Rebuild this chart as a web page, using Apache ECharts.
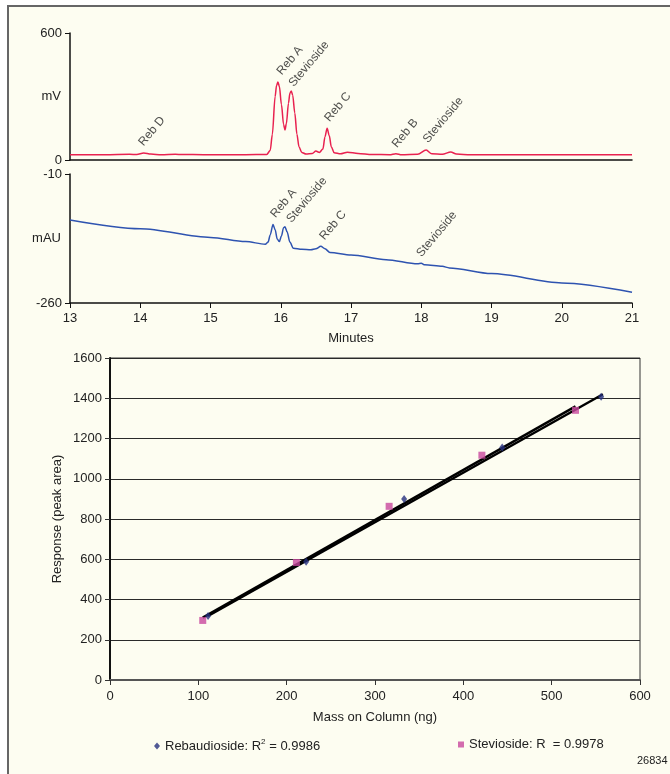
<!DOCTYPE html>
<html>
<head>
<meta charset="utf-8">
<script src="https://cdn.jsdelivr.net/npm/echarts@6/dist/echarts.min.js"></script>
<style>
html,body{margin:0;padding:0;background:#ffffff;}
#chart{width:670px;height:774px;}
</style>
</head>
<body>
<div id="chart"></div>
<script>
// ---------- DATA ----------
// ELSD trace (minutes, mV)
const elsdTrace = [
  [13.0,25],[13.5,25],[13.85,27],[13.95,26],[14.05,33],[14.15,28],[14.3,25],[14.5,27],[14.6,26],
  [14.9,25],[15.5,25],[15.8,26],[15.85,45],[15.88,120],[15.92,300],[15.94,352],[15.96,368],
  [15.98,348],[16.01,262],[16.04,168],[16.06,142],[16.08,172],[16.11,268],[16.13,315],
  [16.15,326],[16.17,306],[16.2,222],[16.23,122],[16.26,62],[16.3,36],[16.36,28],[16.45,31],
  [16.5,42],[16.55,36],[16.6,52],[16.63,110],[16.66,150],[16.69,116],[16.72,62],[16.76,34],
  [16.85,29],[16.95,37],[17.1,31],[17.3,26],[17.55,25],[17.64,30],[17.72,25],[17.95,27],
  [18.07,47],[18.15,29],[18.3,27],[18.42,38],[18.5,28],[18.7,25],[21.0,25]
];
// UV trace (minutes, mAU)
const uvTrace = [
  [13.0,-99],[14.0,-116],[15.0,-133],[15.5,-141],[15.78,-146],[15.82,-142],[15.85,-128],
  [15.89,-108],[15.92,-118],[15.95,-136],[15.98,-141],[16.01,-130],[16.04,-114],[16.06,-112],
  [16.09,-122],[16.13,-142],[16.18,-154],[16.3,-156],[16.43,-157],[16.5,-155],[16.57,-150],
  [16.63,-155],[16.7,-162],[17.0,-167],[17.5,-176],[17.95,-184],[18.0,-183],[18.05,-186],
  [18.3,-189],[18.4,-192],[19.0,-203],[20.0,-221],[21.0,-239]
];
// Peak annotations: [label, minutes, level]
const elsdLabels = [
  ['Reb D',13.95,66],['Reb A',15.92,401],['Stevioside',16.09,345],['Reb C',16.6,180],
  ['Reb B',17.56,57],['Stevioside',18.0,80]
];
const uvLabels = [
  ['Reb A',15.83,-95],['Stevioside',16.06,-105],['Reb C',16.53,-138],['Stevioside',17.91,-171]
];
// Calibration (ng, peak area)
const rebMass = [111,222,333,444,556];
const rebArea = [318,587,900,1155,1408];
const stevMass = [105,211,316,421,527];
const stevArea = [296,584,863,1117,1340];
// Trendline end points
const rebTrend = [[111,318],[558,1420]];
const stevTrend = [[105,310],[527,1360]];
const legendText = ['Rebaudioside: R', '2', ' = 0.9986', 'Stevioside: R  = 0.9978'];
const figureId = '26834';

// ---------- CHART ----------
const FONT = "'Liberation Sans',Arial,sans-serif";
const TXT = '#222';
const chart = echarts.init(document.getElementById('chart'), null, {renderer:'canvas'});

function annot(list, xi, yi) {
  return {
    type:'scatter', xAxisIndex:xi, yAxisIndex:yi, symbolSize:0, silent:true, z:5,
    data: list.map(d => ({name:d[0], value:[d[1], d[2]]})),
    label:{show:true, position:[0,0], offset:[4,8], align:'left', verticalAlign:'bottom', rotate:50,
      formatter:p=>p.name, fontFamily:FONT, fontSize:12, color:TXT}
  };
}

const axisLabelStyle = {fontFamily:FONT, fontSize:13, color:TXT, formatter:v=>String(v)};

const option = {
  backgroundColor:'transparent',
  animation:false,
  textStyle:{fontFamily:FONT},
  graphic:[
    {type:'rect', shape:{x:8, y:6, width:720, height:820}, style:{fill:'#fdfdf1', stroke:'#666', lineWidth:2}, z:-10},
    {type:'text', left:637, top:755, style:{text:figureId, font:'11px ' + FONT, fill:TXT}}
  ],
  grid:[
    {left:70, top:33, width:562, height:127},
    {left:70, top:174, width:562, height:129},
    {left:110, top:358, width:530, height:322, show:true, borderColor:'#333', borderWidth:1}
  ],
  xAxis:[
    {gridIndex:0, type:'value', min:13, max:21, interval:1,
      axisLine:{lineStyle:{color:'#111', width:1.5}}, axisTick:{show:false}, axisLabel:{show:false}, splitLine:{show:false}},
    {gridIndex:1, type:'value', min:13, max:21, interval:1,
      axisLine:{lineStyle:{color:'#111', width:1.5}}, axisTick:{length:5, lineStyle:{color:'#111'}},
      axisLabel:Object.assign({}, axisLabelStyle, {margin:9}), splitLine:{show:false},
      name:'Minutes', nameLocation:'middle', nameGap:29, nameMoveOverlap:false,
      nameTextStyle:{fontFamily:FONT, fontSize:13, color:TXT}},
    {gridIndex:2, type:'value', min:0, max:600, interval:100,
      axisLine:{lineStyle:{color:'#555', width:2}}, axisTick:{length:5, lineStyle:{color:'#333'}},
      axisLabel:Object.assign({}, axisLabelStyle, {margin:10}), splitLine:{show:false},
      name:'Mass on Column (ng)', nameLocation:'middle', nameGap:31, nameMoveOverlap:false,
      nameTextStyle:{fontFamily:FONT, fontSize:13, color:TXT}}
  ],
  yAxis:[
    {gridIndex:0, type:'value', min:0, max:600, interval:600,
      axisLine:{show:true, lineStyle:{color:'#111', width:1.5}}, axisTick:{show:true, length:5, lineStyle:{color:'#111'}},
      axisLabel:Object.assign({}, axisLabelStyle, {margin:8}), splitLine:{show:false},
      name:'mV', nameLocation:'middle', nameRotate:0, nameGap:9, nameMoveOverlap:false,
      nameTextStyle:{fontFamily:FONT, fontSize:13, color:TXT, align:'right', verticalAlign:'middle'}},
    {gridIndex:1, type:'value', min:-260, max:-10, interval:250,
      axisLine:{show:true, lineStyle:{color:'#111', width:1.5}}, axisTick:{show:true, length:5, lineStyle:{color:'#111'}},
      axisLabel:Object.assign({}, axisLabelStyle, {margin:8}), splitLine:{show:false},
      name:'mAU', nameLocation:'middle', nameRotate:0, nameGap:9, nameMoveOverlap:false,
      nameTextStyle:{fontFamily:FONT, fontSize:13, color:TXT, align:'right', verticalAlign:'middle'}},
    {gridIndex:2, type:'value', min:0, max:1600, interval:200,
      axisLine:{show:true, lineStyle:{color:'#111', width:2}}, axisTick:{show:true, length:5, lineStyle:{color:'#333'}},
      axisLabel:Object.assign({}, axisLabelStyle, {margin:8}),
      splitLine:{show:true, lineStyle:{color:'#2a2a2a', width:1}},
      name:'Response (peak area)', nameLocation:'middle', nameGap:46, nameMoveOverlap:false,
      nameTextStyle:{fontFamily:FONT, fontSize:13, color:TXT}}
  ],
  legend:[
    {data:[{name:'Rebaudioside', icon:'diamond'}], left:149, top:733, itemWidth:6, itemHeight:7, itemGap:8,
      selectedMode:false,
      formatter:()=>'{t|' + legendText[0] + '}{s|' + legendText[1] + '}{t|' + legendText[2] + '}',
      textStyle:{fontFamily:FONT, fontSize:13, color:TXT,
        rich:{t:{fontFamily:FONT, fontSize:13, color:TXT}, s:{fontFamily:FONT, fontSize:8, color:TXT, verticalAlign:'top', padding:[0,0,8,0]}}}},
    {data:[{name:'Stevioside', icon:'rect'}], left:453, top:733, itemWidth:6, itemHeight:6, itemGap:5,
      selectedMode:false,
      formatter:()=>legendText[3],
      textStyle:{fontFamily:FONT, fontSize:13, color:TXT}}
  ],
  series:[
    {type:'line', name:'ELSD', xAxisIndex:0, yAxisIndex:0, data:elsdTrace, showSymbol:false, symbol:'none',
      smooth:0.3, smoothMonotone:'x', lineStyle:{color:'#e8214f', width:1.5}, silent:true},
    {type:'line', name:'UV', xAxisIndex:1, yAxisIndex:1, data:uvTrace, showSymbol:false, symbol:'none',
      smooth:0.3, smoothMonotone:'x', lineStyle:{color:'#2e53b0', width:1.5}, silent:true},
    annot(elsdLabels, 0, 0),
    annot(uvLabels, 1, 1),
    {type:'line', name:'RebTrend', xAxisIndex:2, yAxisIndex:2, data:rebTrend, symbol:'none',
      lineStyle:{color:'#000', width:2.5}, silent:true, z:3},
    {type:'line', name:'StevTrend', xAxisIndex:2, yAxisIndex:2, data:stevTrend, symbol:'none',
      lineStyle:{color:'#000', width:2.5}, silent:true, z:3},
    {type:'scatter', name:'Rebaudioside', xAxisIndex:2, yAxisIndex:2, symbol:'diamond', symbolSize:[6,8],
      data:rebMass.map((m,i)=>[m, rebArea[i]]), itemStyle:{color:'#26307e'}, z:4},
    {type:'scatter', name:'Stevioside', xAxisIndex:2, yAxisIndex:2, symbol:'rect', symbolSize:7,
      data:stevMass.map((m,i)=>[m, stevArea[i]]), itemStyle:{color:'#c8479e'}, z:4}
  ]
};
chart.setOption(option);
</script>
</body>
</html>
